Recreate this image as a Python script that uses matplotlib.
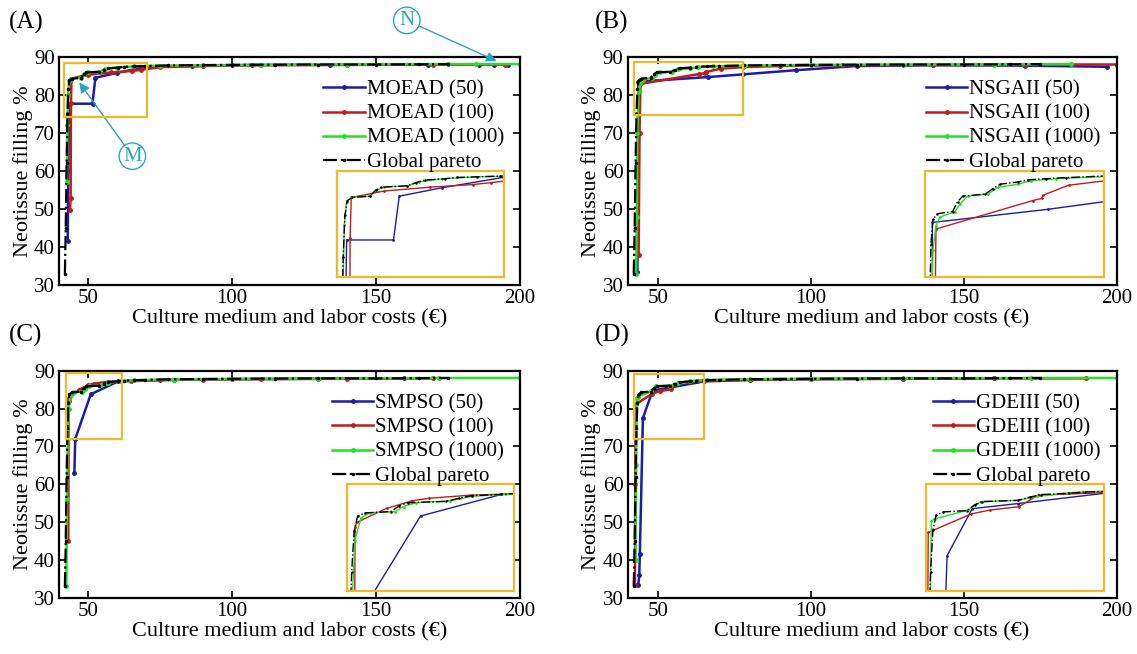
import matplotlib
matplotlib.use('Agg')
import matplotlib.pyplot as plt
from matplotlib.patches import Rectangle

plt.rcParams['font.family'] = ['Liberation Serif', 'DejaVu Serif']

# global pareto front, the same front is drawn in every panel
global_cost = [42.0, 42.3, 42.6, 42.9, 43.2, 43.6, 44.5, 47.5, 48.5, 49.5, 54.0, 55.5, 57.0,
               60.5, 62.5, 66.0, 70.0, 78.0, 90.0, 100, 115, 130, 150, 165, 175]
global_fill = [33.0, 45.0, 62.0, 75.0, 81.5, 83.8, 84.3, 84.5, 85.4, 85.9, 86.1, 86.6, 87.0,
               87.2, 87.4, 87.5, 87.6, 87.75, 87.85, 87.9, 87.95, 88.0, 88.0, 88.05, 88.1]

# (A) MOEAD
moead_50_cost = [43.0, 43.2, 43.5, 51.6, 52.6, 60.0, 70.5, 86, 100, 107, 134, 168, 186, 191, 196]
moead_50_fill = [41.5, 60.0, 77.7, 77.7, 84.5, 85.8, 87.4, 87.6, 87.8, 87.9, 87.9, 88.0, 88.0, 88.0, 88.0]
moead_100_cost = [43.8, 44.0, 44.1, 44.3, 50.0, 58.0, 65.3, 68.5, 75, 90, 110, 140, 170, 195]
moead_100_fill = [49.8, 53.0, 78.0, 84.3, 85.3, 85.9, 86.3, 86.6, 87.3, 87.6, 87.8, 87.9, 88.0, 88.0]
moead_1000_cost = [42.7, 42.9, 43.1, 43.5, 44.2, 47.5, 48.5, 50.0, 54.0, 56.0, 60.0, 66.0, 75,
                   90, 110, 140, 175, 185, 200]
moead_1000_fill = [57.0, 72.0, 80.0, 83.6, 84.3, 84.5, 85.4, 85.9, 86.1, 86.7, 87.2, 87.5, 87.7,
                   87.8, 87.9, 88.0, 88.1, 88.1, 88.1]

# (B) NSGAII
nsga_50_cost = [43.2, 43.5, 66.4, 77.6, 95, 115, 140, 170, 197]
nsga_50_fill = [33.5, 83.5, 84.7, 85.4, 86.5, 87.6, 87.8, 87.7, 87.4]
nsga_100_cost = [43.6, 43.9, 44.2, 63.4, 65.2, 65.5, 70.5, 77.6, 90, 110, 140, 170, 200]
nsga_100_fill = [38.0, 70.0, 82.9, 85.5, 85.7, 86.0, 86.9, 87.3, 87.6, 87.8, 87.9, 88.0, 88.0]
nsga_1000_cost = [42.8, 43.0, 43.2, 43.6, 44.2, 45.0, 48.0, 49.0, 50.5, 54.5, 56.5, 60.5, 63,
                  68, 78, 100, 130, 160, 185]
nsga_1000_fill = [33.0, 48.0, 70.0, 81.0, 83.2, 84.0, 84.5, 85.2, 85.9, 86.1, 86.7, 87.0, 87.3,
                  87.5, 87.7, 87.9, 88.0, 88.0, 88.1]

# (C) SMPSO
smpso_50_cost = [45.3, 45.6, 51.0, 60.5, 80, 100, 130, 160]
smpso_50_fill = [63.0, 72.0, 83.8, 87.2, 87.6, 87.8, 87.9, 88.0]
smpso_100_cost = [43.2, 43.3, 43.5, 47.0, 50.0, 52, 57, 65, 75, 90, 110, 140, 170]
smpso_100_fill = [45.0, 82.0, 82.8, 85.0, 86.2, 86.6, 87.1, 87.4, 87.6, 87.7, 87.8, 87.9, 88.0]
smpso_1000_cost = [42.5, 42.7, 43.0, 43.3, 44.0, 45, 48.0, 49.0, 50.5, 54.5, 57, 61, 66,
                   80, 100, 130, 172, 200]
smpso_1000_fill = [33.0, 56.0, 72.0, 80.0, 83.5, 84.3, 84.5, 85.3, 85.9, 86.2, 86.9, 87.2, 87.5,
                   87.7, 87.85, 87.95, 88.1, 88.1]

# (D) GDEIII
gde_50_cost = [43.5, 43.8, 44.0, 45.0, 48.2, 54.0, 65.0, 80, 100, 130, 160]
gde_50_fill = [33.5, 36.0, 41.5, 77.5, 84.8, 85.6, 87.2, 87.6, 87.8, 87.9, 88.0]
gde_100_cost = [42.4, 42.5, 42.6, 48.1, 50.5, 54.1, 56.6, 65, 80, 100, 130, 160, 190]
gde_100_fill = [33.5, 60.0, 81.1, 84.0, 84.6, 85.1, 86.9, 87.3, 87.6, 87.8, 87.9, 88.0, 88.0]
gde_1000_cost = [42.6, 42.8, 43.0, 43.4, 47.7, 49.3, 54, 56.5, 60.5, 66, 80, 100, 130, 172, 200]
gde_1000_fill = [40.0, 65.0, 82.9, 83.2, 84.6, 85.9, 86.1, 86.7, 87.3, 87.6, 87.8, 87.9, 88.0, 88.1, 88.1]

names = ['MOEAD', 'NSGAII', 'SMPSO', 'GDEIII']
letters = ['(A)', '(B)', '(C)', '(D)']
runs = ['50', '100', '1000']
series = [
    [(moead_50_cost, moead_50_fill), (moead_100_cost, moead_100_fill), (moead_1000_cost, moead_1000_fill)],
    [(nsga_50_cost, nsga_50_fill), (nsga_100_cost, nsga_100_fill), (nsga_1000_cost, nsga_1000_fill)],
    [(smpso_50_cost, smpso_50_fill), (smpso_100_cost, smpso_100_fill), (smpso_1000_cost, smpso_1000_fill)],
    [(gde_50_cost, gde_50_fill), (gde_100_cost, gde_100_fill), (gde_1000_cost, gde_1000_fill)],
]
colors = ['#1c1ca6', '#c41a1a', '#22e022']

# zoom box on the main axes (x0, x1, y0, y1) and the inset limits
boxes = [(41.8, 70.7, 74.3, 88.4), (42.1, 77.9, 74.7, 88.6), (42.4, 62.0, 72.0, 89.3), (42.2, 65.0, 72.0, 89.2)]
inset_lims = [(41.8, 70.7, 72.0, 88.4), (42.0, 77.6, 78.5, 88.2), (42.4, 62.0, 72.0, 88.8), (42.3, 65.0, 72.0, 88.6)]
inset_pos = [[0.603, 0.037, 0.363, 0.463], [0.608, 0.035, 0.367, 0.465],
             [0.626, 0.03, 0.362, 0.47], [0.61, 0.03, 0.365, 0.47]]

axes_pos = [[0.052, 0.564, 0.405, 0.349], [0.552, 0.564, 0.43, 0.349],
            [0.052, 0.086, 0.405, 0.347], [0.552, 0.086, 0.43, 0.347]]
letter_pos = [(0.008, 0.984), (0.523, 0.984), (0.008, 0.505), (0.523, 0.505)]

yellow = '#f2b82a'
cyan = '#2aa5c6'

fig = plt.figure(figsize=(11.37, 6.54), dpi=100)

for i in range(4):
    ax = fig.add_axes(axes_pos[i])
    for j in range(3):
        cx, fy = series[i][j]
        ax.plot(cx, fy, '.-', color=colors[j], lw=1.8, ms=5, label=f'{names[i]} ({runs[j]})')
    ax.plot(global_cost, global_fill, '.-.', color='black', lw=1.6, ms=3, label='Global pareto')

    ax.set_xlim(40, 200)
    ax.set_ylim(30, 90)
    ax.set_xticks([50, 100, 150, 200])
    ax.set_yticks(range(30, 91, 10))
    ax.tick_params(direction='in', top=True, right=True, length=5, width=1.2, labelsize=15, pad=3)
    for s in ax.spines.values():
        s.set_linewidth(1.6)
    ax.set_xlabel('Culture medium and labor costs (€)', fontsize=16, labelpad=1)
    ax.set_ylabel('Neotissue filling %', fontsize=16, labelpad=1)
    ax.legend(loc='upper right', bbox_to_anchor=(0.985, 0.935), frameon=False, fontsize=15,
              handlelength=2.0, handletextpad=0.1, labelspacing=0.22, borderaxespad=0)

    x0, x1, y0, y1 = boxes[i]
    ax.add_patch(Rectangle((x0, y0), x1 - x0, y1 - y0, fill=False, ec=yellow, lw=1.6, zorder=5))

    ins = ax.inset_axes(inset_pos[i])
    for j in range(3):
        cx, fy = series[i][j]
        ins.plot(cx, fy, '.-', color=colors[j], lw=1.0, ms=2)
    ins.plot(global_cost, global_fill, '.-.', color='black', lw=1.0, ms=1.5)
    ix0, ix1, iy0, iy1 = inset_lims[i]
    ins.set_xlim(ix0, ix1)
    ins.set_ylim(iy0, iy1)
    ins.set_xticks([])
    ins.set_yticks([])
    for s in ins.spines.values():
        s.set_color(yellow)
        s.set_linewidth(1.6)

    fig.text(letter_pos[i][0], letter_pos[i][1], letters[i], fontsize=18, va='top', ha='left')

    if i == 0:
        ax.annotate('N', xy=(192, 88.9), xytext=(0.755, 1.16), textcoords='axes fraction',
                    color=cyan, fontsize=15, ha='center', va='center', annotation_clip=False,
                    bbox=dict(boxstyle='circle,pad=0.18', fc='white', ec=cyan, lw=1),
                    arrowprops=dict(arrowstyle='-|>', color=cyan, lw=1, shrinkA=0, shrinkB=0))
        ax.annotate('M', xy=(47, 83.3), xytext=(0.159, 0.565), textcoords='axes fraction',
                    color=cyan, fontsize=15, ha='center', va='center',
                    bbox=dict(boxstyle='circle,pad=0.18', fc='white', ec=cyan, lw=1),
                    arrowprops=dict(arrowstyle='-|>', color=cyan, lw=1, shrinkA=0, shrinkB=0))

fig.savefig('out.png', dpi=100)
